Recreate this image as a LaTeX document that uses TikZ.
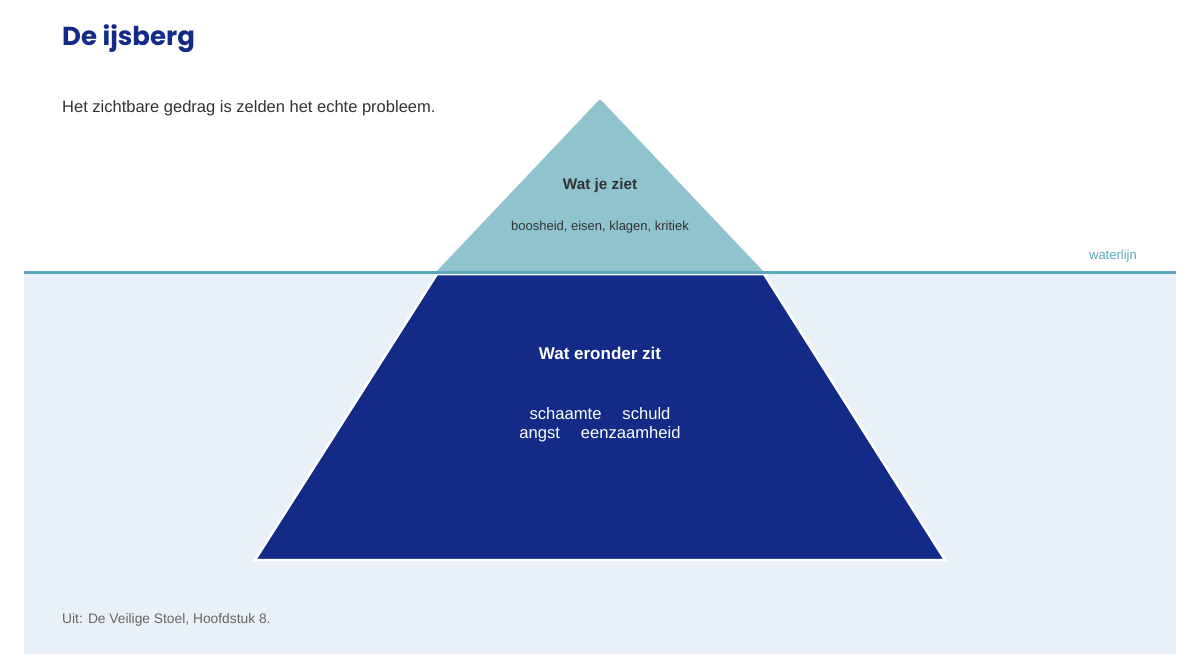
\documentclass[tikz,border=0pt]{standalone}
\usepackage{fontspec}
\setmainfont{Liberation Sans}
\newfontfamily\titlefont{Poppins}
\definecolor{navy}{HTML}{132A87}
\definecolor{tipcol}{HTML}{8FC3CE}
\definecolor{watercol}{HTML}{EAF0F7}
\definecolor{wlinecol}{HTML}{5AA9BC}
\definecolor{darktext}{HTML}{333333}
\definecolor{greytext}{HTML}{666666}
\tikzset{
  lbl/.style={inner sep=0pt, font=\fontsize{#1}{#1}\selectfont},
  lbl/.default=14
}
\begin{document}
\begin{tikzpicture}[x=1pt,y=-1pt]
\useasboundingbox[fill=white] (0,0) rectangle (1200,667);
\fill[watercol] (24,273) rectangle (1176,654);
\fill[tipcol, rounded corners=2pt] (600,99) -- (764,272) -- (436,272) -- cycle;
\draw[white, line width=2.5pt, fill=navy, line join=miter] (437,274) -- (764,274) -- (945,560) -- (255,560) -- cycle;
\draw[wlinecol, line width=3pt] (24,272) -- (1176,272);
\node[lbl=26, anchor=base west, text=navy] (title) at (62,45) {\titlefont\bfseries De ijsberg};
\node[lbl=16.5, anchor=base west, text=darktext] (sub) at (62,112) {Het zichtbare gedrag is zelden het echte probleem.};
\node[lbl=15.3, text=darktext] (seen) at (600,186) {\bfseries Wat je ziet};
\node[lbl=13, text=darktext] (seenlist) at (600,227) {boosheid, eisen, klagen, kritiek};
\node[lbl=13, anchor=east, text=wlinecol] (wl) at (1137,256) {waterlijn};
\node[lbl=17, text=white] (under) at (600,353) {\bfseries Wat eronder zit};
\node[lbl=16.6, text=white, align=center] (emo) at (600,425) {schaamte\hspace{21pt}schuld\\[2pt]angst\hspace{21pt}eenzaamheid};
\node[lbl=13.8, anchor=base west, text=greytext] (src) at (62,623) {Uit: De Veilige Stoel, Hoofdstuk 8.};
\end{tikzpicture}
\end{document}
